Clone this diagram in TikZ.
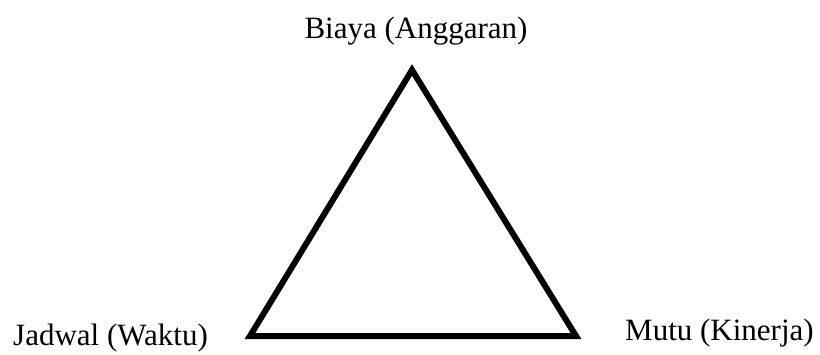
\documentclass[tikz,border=0pt]{standalone}
\usepackage{fontspec}
\setmainfont{Liberation Serif}
\usetikzlibrary{positioning}

\begin{document}
\begin{tikzpicture}[
    x=1pt, y=-1pt,
    side/.style ={draw=black, line width=6pt, miter limit=10, line join=miter},
    lbl/.style  ={font=\fontsize{31}{37}\selectfont, inner sep=0pt}
  ]
  \useasboundingbox (0,0) rectangle (820,354);

  %% ---- corners of the triangle -------------------------------------
  \coordinate (biaya)  at (412,70);
  \coordinate (jadwal) at (250,336);
  \coordinate (mutu)   at (576,336);

  %% ---- triangle ----------------------------------------------------
  \draw[side] (biaya) -- (jadwal) -- (mutu) -- cycle;

  %% ---- labels ------------------------------------------------------
  \node[lbl, anchor=base]      (lbiaya)  at (416,38)  {Biaya (Anggaran)};
  \node[lbl, anchor=base west] (ljadwal) at (13,345)  {Jadwal (Waktu)};
  \node[lbl, anchor=base west] (lmutu)   at (625,340) {Mutu (Kinerja)};

\end{tikzpicture}
\end{document}
